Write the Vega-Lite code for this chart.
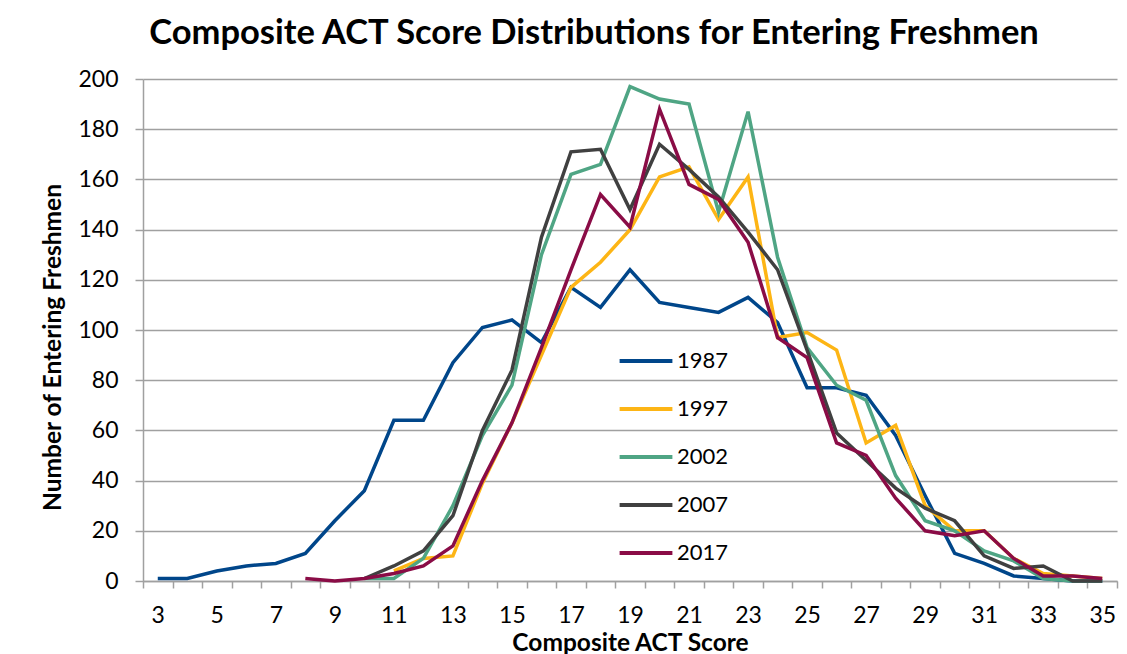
{
  "$schema": "https://vega.github.io/schema/vega-lite/v6.json",
  "autosize": "none",
  "width": 974,
  "height": 502,
  "padding": {"left": 143, "top": 79, "right": 10, "bottom": 73},
  "background": "white",
  "config": {"view": {"stroke": null}, "font": "Lato"},
  "title": {"text": "Composite ACT Score Distributions for Entering Freshmen", "font": "Lato", "fontSize": 34.5, "fontWeight": "bold", "color": "#000000", "anchor": "middle", "dx": -36, "offset": 17},
  "data": {"values": [
    {"score": 3, "year": "1987", "n": 1}, {"score": 4, "year": "1987", "n": 1}, {"score": 5, "year": "1987", "n": 4}, {"score": 6, "year": "1987", "n": 6}, {"score": 7, "year": "1987", "n": 7}, {"score": 8, "year": "1987", "n": 11}, {"score": 9, "year": "1987", "n": 24}, {"score": 10, "year": "1987", "n": 36}, {"score": 11, "year": "1987", "n": 64}, {"score": 12, "year": "1987", "n": 64}, {"score": 13, "year": "1987", "n": 87}, {"score": 14, "year": "1987", "n": 101}, {"score": 15, "year": "1987", "n": 104}, {"score": 16, "year": "1987", "n": 95}, {"score": 17, "year": "1987", "n": 117}, {"score": 18, "year": "1987", "n": 109}, {"score": 19, "year": "1987", "n": 124}, {"score": 20, "year": "1987", "n": 111}, {"score": 21, "year": "1987", "n": 109}, {"score": 22, "year": "1987", "n": 107}, {"score": 23, "year": "1987", "n": 113}, {"score": 24, "year": "1987", "n": 103}, {"score": 25, "year": "1987", "n": 77}, {"score": 26, "year": "1987", "n": 77}, {"score": 27, "year": "1987", "n": 74}, {"score": 28, "year": "1987", "n": 58}, {"score": 29, "year": "1987", "n": 34}, {"score": 30, "year": "1987", "n": 11}, {"score": 31, "year": "1987", "n": 7}, {"score": 32, "year": "1987", "n": 2}, {"score": 33, "year": "1987", "n": 1}, {"score": 34, "year": "1987", "n": 0}, {"score": 35, "year": "1987", "n": 0},
    {"score": 11, "year": "1997", "n": 4}, {"score": 12, "year": "1997", "n": 9}, {"score": 13, "year": "1997", "n": 10}, {"score": 14, "year": "1997", "n": 39}, {"score": 15, "year": "1997", "n": 63}, {"score": 16, "year": "1997", "n": 90}, {"score": 17, "year": "1997", "n": 117}, {"score": 18, "year": "1997", "n": 127}, {"score": 19, "year": "1997", "n": 140}, {"score": 20, "year": "1997", "n": 161}, {"score": 21, "year": "1997", "n": 165}, {"score": 22, "year": "1997", "n": 144}, {"score": 23, "year": "1997", "n": 161}, {"score": 24, "year": "1997", "n": 97}, {"score": 25, "year": "1997", "n": 99}, {"score": 26, "year": "1997", "n": 92}, {"score": 27, "year": "1997", "n": 55}, {"score": 28, "year": "1997", "n": 62}, {"score": 29, "year": "1997", "n": 30}, {"score": 30, "year": "1997", "n": 20}, {"score": 31, "year": "1997", "n": 20}, {"score": 32, "year": "1997", "n": 9}, {"score": 33, "year": "1997", "n": 3}, {"score": 34, "year": "1997", "n": 2}, {"score": 35, "year": "1997", "n": 1},
    {"score": 10, "year": "2002", "n": 1}, {"score": 11, "year": "2002", "n": 1}, {"score": 12, "year": "2002", "n": 9}, {"score": 13, "year": "2002", "n": 30}, {"score": 14, "year": "2002", "n": 58}, {"score": 15, "year": "2002", "n": 78}, {"score": 16, "year": "2002", "n": 130}, {"score": 17, "year": "2002", "n": 162}, {"score": 18, "year": "2002", "n": 166}, {"score": 19, "year": "2002", "n": 197}, {"score": 20, "year": "2002", "n": 192}, {"score": 21, "year": "2002", "n": 190}, {"score": 22, "year": "2002", "n": 147}, {"score": 23, "year": "2002", "n": 187}, {"score": 24, "year": "2002", "n": 129}, {"score": 25, "year": "2002", "n": 93}, {"score": 26, "year": "2002", "n": 78}, {"score": 27, "year": "2002", "n": 72}, {"score": 28, "year": "2002", "n": 42}, {"score": 29, "year": "2002", "n": 24}, {"score": 30, "year": "2002", "n": 20}, {"score": 31, "year": "2002", "n": 12}, {"score": 32, "year": "2002", "n": 8}, {"score": 33, "year": "2002", "n": 1}, {"score": 34, "year": "2002", "n": 0}, {"score": 35, "year": "2002", "n": 0},
    {"score": 10, "year": "2007", "n": 1}, {"score": 11, "year": "2007", "n": 6}, {"score": 12, "year": "2007", "n": 12}, {"score": 13, "year": "2007", "n": 26}, {"score": 14, "year": "2007", "n": 60}, {"score": 15, "year": "2007", "n": 84}, {"score": 16, "year": "2007", "n": 137}, {"score": 17, "year": "2007", "n": 171}, {"score": 18, "year": "2007", "n": 172}, {"score": 19, "year": "2007", "n": 148}, {"score": 20, "year": "2007", "n": 174}, {"score": 21, "year": "2007", "n": 164}, {"score": 22, "year": "2007", "n": 153}, {"score": 23, "year": "2007", "n": 139}, {"score": 24, "year": "2007", "n": 124}, {"score": 25, "year": "2007", "n": 92}, {"score": 26, "year": "2007", "n": 59}, {"score": 27, "year": "2007", "n": 48}, {"score": 28, "year": "2007", "n": 37}, {"score": 29, "year": "2007", "n": 29}, {"score": 30, "year": "2007", "n": 24}, {"score": 31, "year": "2007", "n": 10}, {"score": 32, "year": "2007", "n": 5}, {"score": 33, "year": "2007", "n": 6}, {"score": 34, "year": "2007", "n": 0}, {"score": 35, "year": "2007", "n": 0},
    {"score": 8, "year": "2017", "n": 1}, {"score": 9, "year": "2017", "n": 0}, {"score": 10, "year": "2017", "n": 1}, {"score": 11, "year": "2017", "n": 3}, {"score": 12, "year": "2017", "n": 6}, {"score": 13, "year": "2017", "n": 14}, {"score": 14, "year": "2017", "n": 40}, {"score": 15, "year": "2017", "n": 63}, {"score": 16, "year": "2017", "n": 93}, {"score": 17, "year": "2017", "n": 124}, {"score": 18, "year": "2017", "n": 154}, {"score": 19, "year": "2017", "n": 141}, {"score": 20, "year": "2017", "n": 188}, {"score": 21, "year": "2017", "n": 158}, {"score": 22, "year": "2017", "n": 152}, {"score": 23, "year": "2017", "n": 135}, {"score": 24, "year": "2017", "n": 97}, {"score": 25, "year": "2017", "n": 89}, {"score": 26, "year": "2017", "n": 55}, {"score": 27, "year": "2017", "n": 50}, {"score": 28, "year": "2017", "n": 33}, {"score": 29, "year": "2017", "n": 20}, {"score": 30, "year": "2017", "n": 18}, {"score": 31, "year": "2017", "n": 20}, {"score": 32, "year": "2017", "n": 9}, {"score": 33, "year": "2017", "n": 2}, {"score": 34, "year": "2017", "n": 2}, {"score": 35, "year": "2017", "n": 1}
  ]},
  "mark": {"type": "line", "strokeWidth": 3.5, "strokeJoin": "miter"},
  "encoding": {
    "x": {
      "field": "score", "type": "ordinal",
      "scale": {"type": "band", "paddingInner": 0, "paddingOuter": 0, "domain": [3,4,5,6,7,8,9,10,11,12,13,14,15,16,17,18,19,20,21,22,23,24,25,26,27,28,29,30,31,32,33,34,35]},
      "axis": {
        "title": "Composite ACT Score", "titleFont": "Lato", "titleFontSize": 24.5, "titleFontWeight": "bold", "titleColor": "#000000", "titlePadding": 4,
        "labelAngle": 0, "labelFont": "Lato", "labelFontSize": 23, "labelColor": "#000000", "labelPadding": 16, "labelOverlap": false,
        "labelExpr": "datum.value % 2 == 1 ? datum.label : ''",
        "tickBand": "extent", "tickSize": 7, "tickColor": "#A0A0A0", "tickWidth": 1.5,
        "domainColor": "#A0A0A0", "domainWidth": 1.5, "grid": false
      }
    },
    "y": {
      "field": "n", "type": "quantitative",
      "scale": {"domain": [0, 200], "nice": false},
      "axis": {
        "title": "Number of Entering Freshmen", "titleFont": "Lato", "titleFontSize": 24.5, "titleFontWeight": "bold", "titleColor": "#000000", "titlePadding": 12, "titleY": 268,
        "values": [0,20,40,60,80,100,120,140,160,180,200],
        "labelFont": "Lato", "labelFontSize": 23, "labelColor": "#000000", "labelPadding": 17,
        "tickSize": 8, "tickColor": "#A0A0A0", "tickWidth": 1.5,
        "domainColor": "#A0A0A0", "domainWidth": 1.5,
        "grid": true, "gridColor": "#A0A0A0", "gridWidth": 1.5
      }
    },
    "color": {
      "field": "year", "type": "nominal",
      "scale": {"domain": ["1987", "1997", "2002", "2007", "2017"], "range": ["#00468A", "#FDB515", "#4FA584", "#404040", "#8A0C46"]},
      "legend": {
        "title": null, "orient": "none", "legendX": 477, "legendY": 256,
        "symbolType": "M-1.1,0H1.1", "symbolSize": 2304, "symbolStrokeWidth": 4,
        "labelFont": "Lato", "labelFontSize": 22, "labelColor": "#000000", "labelOffset": 5, "rowPadding": 11
      }
    }
  }
}
